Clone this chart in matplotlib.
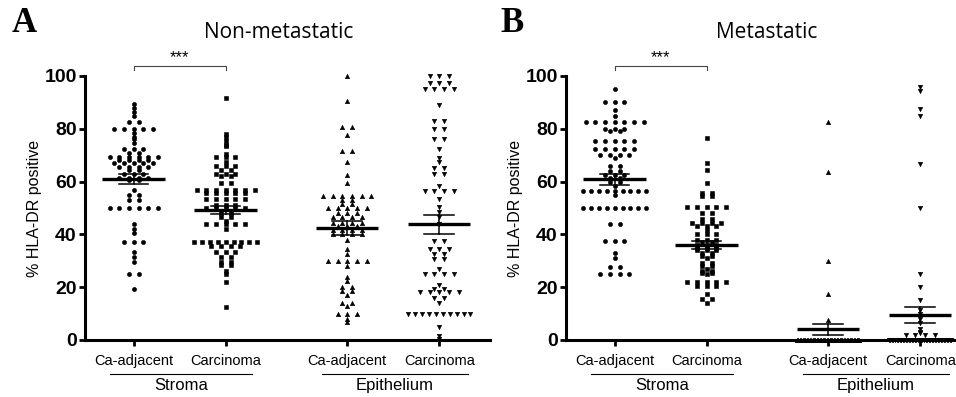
import numpy as np
import matplotlib
matplotlib.use('Agg')
import matplotlib.pyplot as plt

plt.rcParams['font.family'] = ['Liberation Sans', 'DejaVu Sans']

# categories and groups
categories = ['Ca-adjacent', 'Carcinoma', 'Ca-adjacent', 'Carcinoma']
groups = ['Stroma', 'Epithelium']
titles = ['Non-metastatic', 'Metastatic']
letters = ['A', 'B']
yticks = [0, 20, 40, 60, 80, 100]

# Panel A (non-metastatic), % HLA-DR positive per sample
A_sa = [89.5, 88, 86.5, 85, 82.5, 82.5, 80, 80, 80, 80, 80, 78.5, 77, 76, 74.5,
        72.5, 72.5, 72.5, 71, 71, 69.5, 69.5, 69.5, 69.5, 69.5, 69.5, 68, 68, 68, 68,
        67, 67, 67, 67, 67, 65.5, 65.5, 65.5, 65.5, 64.5, 64.5, 63, 63, 63,
        61.5, 61.5, 61.5, 61.5, 60.5, 60.5, 57, 55, 55, 53, 53, 50, 50, 50, 50, 50, 50,
        44, 42, 40.5, 37, 37, 37, 33.5, 31.5, 29.5, 25, 25, 19.5]
A_sc = [91.5, 78, 77, 75.5, 74, 73.5, 70.5, 69.5, 69.5, 69.5, 67.5, 66, 66, 66, 64.5, 64.5,
        63, 63, 63, 62, 62, 59.5, 59.5, 57, 57, 57, 57, 57, 57, 57, 55.5, 55.5, 55.5, 55.5, 55.5,
        53.5, 53.5, 53.5, 53.5, 53.5, 51, 51, 51, 50, 50, 50, 50, 50, 48, 48, 46.5, 46.5, 45,
        44, 44, 44, 44, 44, 42, 37, 37, 37, 37, 37, 37, 37, 37, 37, 35.5, 35.5, 35.5, 35.5,
        33.5, 33.5, 33.5, 31.5, 31.5, 29.5, 29.5, 28.5, 28.5, 26, 25, 22, 12.5]
A_ea = [100, 90.5, 80.5, 80.5, 77.5, 71.5, 71.5, 67.5, 62.5, 59.5, 54.5, 54.5, 54.5, 54.5,
        54.5, 54.5, 53, 53, 51.5, 51.5, 50, 50, 50, 50, 50, 48, 48, 48, 46.5, 46.5, 46.5, 46.5,
        44.5, 44.5, 44.5, 44.5, 43, 43, 43, 41.5, 41.5, 41.5, 41.5, 40, 40, 40, 40, 38, 34.5,
        32.5, 30, 30, 30, 30, 30, 28, 24, 22.5, 20, 20, 18.5, 18.5, 17, 14, 14, 13,
        10, 10, 10, 8, 7]
A_ec = [100, 100, 100, 97.5, 97.5, 97.5, 95, 95, 95, 95, 89, 83, 83, 80, 80, 76, 76, 72.5,
        69, 67.5, 65, 65, 63, 63, 58.5, 56.5, 56.5, 56.5, 56.5, 53.5, 50.5, 48.5, 46.5, 44,
        37.5, 37.5, 34.5, 34.5, 34.5, 32.5, 32.5, 30.5, 30.5, 27, 25, 25, 25, 25, 21,
        19.5, 19.5, 18, 18, 18, 18, 18, 16, 16, 14, 10, 10, 10, 10, 10, 10, 10, 10, 10, 10,
        5, 1.5, 0.5]

# Panel B (metastatic)
B_sa = [95, 90, 90, 90, 87, 85, 82.5, 82.5, 82.5, 82.5, 82.5, 82.5, 82.5, 80, 80, 80, 79, 79,
        75.5, 75.5, 75.5, 75.5, 75.5, 72.5, 72.5, 72.5, 72.5, 72.5, 70, 70, 70, 70, 69,
        66, 66, 64, 64, 62.5, 62.5, 62.5, 61.5, 61.5, 60, 60, 58.5,
        56.5, 56.5, 56.5, 56.5, 56.5, 56.5, 56.5, 56.5, 56.5, 55,
        50, 50, 50, 50, 50, 50, 50, 50, 50, 44, 44, 37.5, 37.5, 37.5, 33, 31,
        27.5, 27.5, 25, 25, 25, 25]
B_sc = [76.5, 67, 64.5, 59.5, 55.5, 55.5, 54.5, 54.5, 50.5, 50.5, 50.5, 50.5, 50.5, 48, 48,
        46, 46, 44.5, 44.5, 44.5, 44.5, 43, 43, 43, 41.5, 40, 40, 40, 38, 38, 38, 37, 37,
        36, 36, 36, 35, 35, 35, 34, 34, 34, 33, 33, 32, 32, 31, 29, 29, 28, 28, 27, 26, 26,
        25.5, 25.5, 25, 22, 22, 22, 22, 22, 20.5, 20.5, 20.5, 17.5, 15.5, 15.5, 14]
B_ea = [82.5, 63.5, 30, 17.5, 7.5,
        0, 0, 0, 0, 0, 0, 0, 0, 0, 0, 0, 0, 0, 0, 0, 0, 0, 0, 0, 0, 0, 0,
        0, 0, 0, 0, 0, 0, 0, 0, 0, 0, 0, 0, 0, 0, 0, 0, 0, 0, 0, 0, 0, 0, 0]
B_ec = [96, 94.5, 87.5, 85, 66.5, 50, 25, 20, 15, 11.5, 10, 8, 6.5, 4, 3, 2.5,
        2, 2, 2, 2,
        0, 0, 0, 0, 0, 0, 0, 0, 0, 0, 0, 0, 0, 0, 0, 0, 0, 0, 0, 0, 0,
        0, 0, 0, 0, 0, 0, 0, 0, 0, 0, 0, 0, 0, 0, 0, 0, 0, 0, 0, 0, 0]

# mean and SEM
A_mean = [61.0, 49.3, 42.3, 43.9]
A_sem = [1.9, 1.6, 2.7, 3.6]
B_mean = [60.9, 36.0, 4.0, 9.5]
B_sem = [2.1, 1.6, 2.0, 2.9]

positions = [0, 1, 2.32, 3.32]
markers = ['o', 's', '^', 'v']
msizes = [3.0, 2.9, 3.2, 3.2]


def swarm(values, step=0.105, maxw=0.34):
    """spread equal values side by side, like a column scatter plot"""
    values = np.asarray(values, dtype=float)
    offs = np.zeros(len(values))
    for v in np.unique(values):
        idx = np.where(values == v)[0]
        n = len(idx)
        if n == 1:
            continue
        s = step
        if (n - 1) * s / 2 > maxw:
            s = 2 * maxw / (n - 1)
        offs[idx] = (np.arange(n) - (n - 1) / 2) * s
    return offs


def draw_panel(ax, data, means, sems):
    for pos, vals, mk, ms, m, se in zip(positions, data, markers, msizes, means, sems):
        x = pos + swarm(vals)
        ax.plot(x, vals, linestyle='none', marker=mk, markersize=ms, color='black',
                markeredgewidth=0.4, clip_on=False, zorder=3)
        ax.plot([pos - 0.34, pos + 0.34], [m, m], color='black', lw=2.4, zorder=4,
                solid_capstyle='butt', clip_on=False)
        for v in (m - se, m + se):
            ax.plot([pos - 0.16, pos + 0.16], [v, v], color='black', lw=1.1, zorder=4,
                    clip_on=False)
        ax.plot([pos, pos], [m - se, m + se], color='black', lw=1.1, zorder=4, clip_on=False)

    ax.set_ylim(0, 100)
    ax.set_yticks(yticks)
    ax.set_yticklabels([str(t) for t in yticks], fontsize=14, fontweight='bold')
    ax.set_xticks(positions)
    ax.set_xticklabels(categories, fontsize=10.5)
    ax.tick_params(axis='y', length=4, width=2, pad=2)
    ax.tick_params(axis='x', length=4, width=2, pad=6)
    ax.spines['top'].set_visible(False)
    ax.spines['right'].set_visible(False)
    ax.spines['left'].set_linewidth(2.2)
    ax.spines['bottom'].set_linewidth(2.2)
    ax.set_ylabel('% HLA-DR positive', fontsize=11.5, labelpad=2)

    # significance bracket between the two stroma columns
    ax.plot([positions[0], positions[0], positions[1], positions[1]],
            [102.3, 103.8, 103.8, 102.3], color='#444444', lw=0.8, clip_on=False)
    ax.text((positions[0] + positions[1]) / 2, 104.3, '***', ha='center', va='bottom',
            fontsize=12)

    # group underlines
    trans = ax.get_xaxis_transform()
    spans = [(-0.26, 1.29), (2.05, 3.63)]
    for (x0, x1), g in zip(spans, groups):
        ax.plot([x0, x1], [-0.127, -0.127], color='black', lw=0.8, transform=trans,
                clip_on=False)
        ax.text((x0 + x1) / 2, -0.145, g, ha='center', va='top', fontsize=12,
                transform=trans)


fig = plt.figure(figsize=(9.56, 3.97), dpi=100)
axA = fig.add_axes([85 / 956, 57 / 397, 405 / 956, 264 / 397])
axB = fig.add_axes([566 / 956, 57 / 397, 390 / 956, 264 / 397])

draw_panel(axA, [A_sa, A_sc, A_ea, A_ec], A_mean, A_sem)
draw_panel(axB, [B_sa, B_sc, B_ea, B_ec], B_mean, B_sem)
axA.set_xlim(-0.53, -0.53 + 405 / 92)
axB.set_xlim(-0.53, -0.53 + 390 / 92)

fig.text(279 / 956, 1 - 32 / 397, titles[0], ha='center', va='center', fontsize=15,
         family='Open Sans')
fig.text(767 / 956, 1 - 32 / 397, titles[1], ha='center', va='center', fontsize=15,
         family='Open Sans')
fig.text(24 / 956, 1 - 24 / 397, letters[0], ha='center', va='center', fontsize=25,
         fontweight='bold', family='Liberation Serif')
fig.text(512 / 956, 1 - 24 / 397, letters[1], ha='center', va='center', fontsize=25,
         fontweight='bold', family='Liberation Serif')

fig.savefig('out.png', dpi=100)
